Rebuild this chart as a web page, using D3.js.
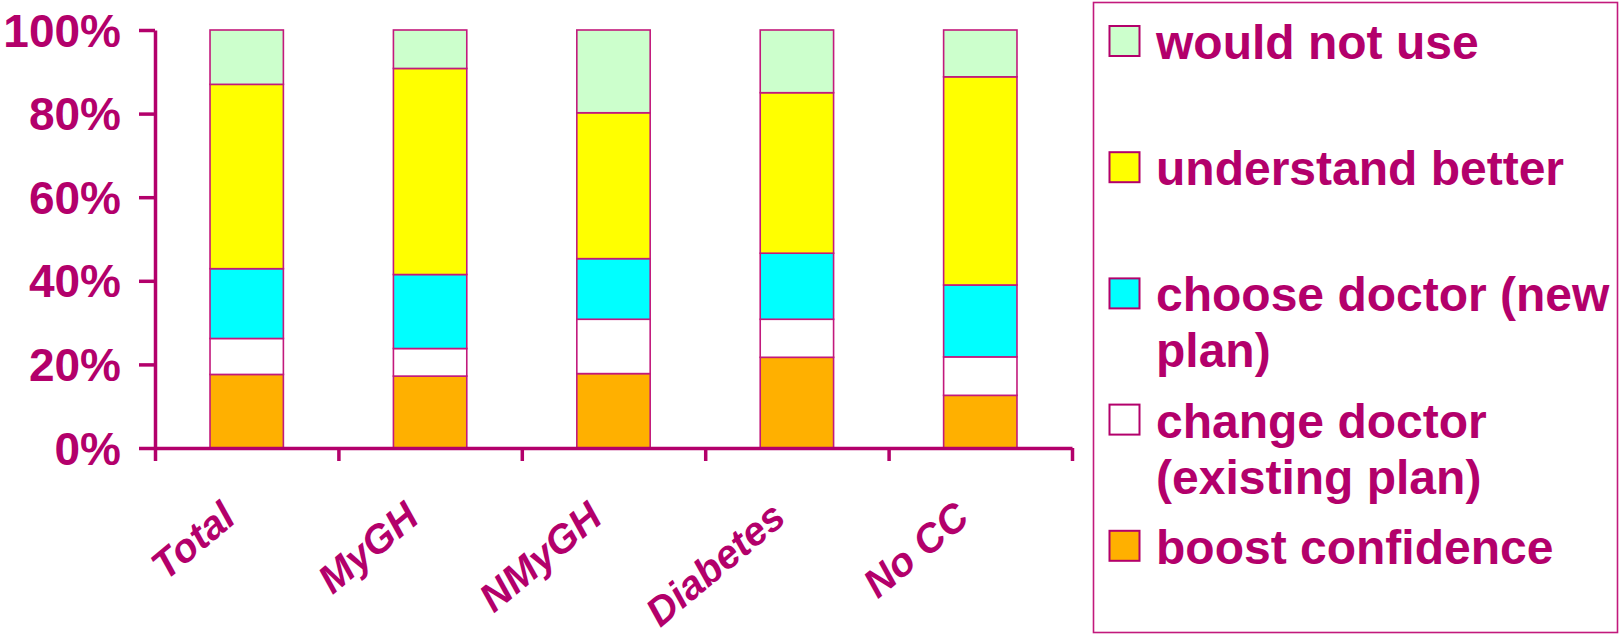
<!DOCTYPE html>
<html>
<head>
<meta charset="utf-8">
<script src="https://cdn.jsdelivr.net/npm/d3@7"></script>
<style>
  html, body { margin: 0; padding: 0; background: #ffffff; }
  svg { display: block; font-family: "Liberation Sans", Arial, sans-serif; }
</style>
</head>
<body>
<svg id="chart" width="1619" height="637"></svg>
<script>
// ---- data ----
const categories = ["Total", "MyGH", "NMyGH", "Diabetes", "No CC"];
const boostConfidence   = [17.6, 17.2, 17.8, 21.7, 12.6];
const changeDoctor      = [8.6, 6.6, 13.0, 9.1, 9.2];
const chooseDoctor      = [16.7, 17.7, 14.5, 15.8, 17.2];
const understandBetter  = [44.1, 49.3, 34.9, 38.4, 49.8];
const wouldNotUse       = [13.0, 9.2, 19.8, 15.0, 11.2];
const seriesNames  = ["boost confidence", "change doctor (existing plan)", "choose doctor (new plan)", "understand better", "would not use"];
const seriesColors = ["#ffb000", "#ffffff", "#00ffff", "#ffff00", "#ccffcc"];
const yTicks = [0, 20, 40, 60, 80, 100];
// legend lines (top to bottom)
const legendLines = [
  ["would not use"],
  ["understand better"],
  ["choose doctor (new", "plan)"],
  ["change doctor", "(existing plan)"],
  ["boost confidence"]
];
const legendColors = ["#ccffcc", "#ffff00", "#00ffff", "#ffffff", "#ffb000"];

const MAG = "#b3006b";
const svg = d3.select("#chart");

const table = categories.map((c, i) => ({
  cat: c,
  s0: boostConfidence[i], s1: changeDoctor[i], s2: chooseDoctor[i],
  s3: understandBetter[i], s4: wouldNotUse[i]
}));
const keys = ["s0", "s1", "s2", "s3", "s4"];
const stacked = d3.stack().keys(keys)(table);

const y = d3.scaleLinear().domain([0, 100]).range([448, 30]);
const x = d3.scaleBand().domain(categories).range([155, 1072]).paddingInner(0.6).paddingOuter(0.3);
const xb = d3.scaleLinear().domain([0, categories.length]).range([155, 1072]);

// bars
svg.append("g").selectAll("g").data(stacked).join("g")
  .attr("fill", (d, i) => seriesColors[i])
  .selectAll("rect").data(d => d).join("rect")
  .attr("x", d => x(d.data.cat))
  .attr("y", d => y(d[1]))
  .attr("width", x.bandwidth())
  .attr("height", d => y(d[0]) - y(d[1]))
  .attr("stroke", "#c2197c")
  .attr("stroke-width", 1.6);

// y axis
const yAxis = svg.append("g").attr("transform", "translate(155,0)")
  .call(d3.axisLeft(y).tickValues(yTicks).tickSize(16).tickSizeOuter(0).tickPadding(18).tickFormat(d => d + "%"));
yAxis.select(".domain").attr("stroke", MAG).attr("stroke-width", 3.5);
yAxis.selectAll(".tick line").attr("stroke", MAG).attr("stroke-width", 3.5);
yAxis.selectAll(".tick text").attr("fill", MAG).attr("font-size", 46).attr("font-weight", "bold")
  .attr("font-family", "'Liberation Sans', Arial, sans-serif").attr("dy", "0.35em");

// x axis (ticks at category boundaries)
const xAxis = svg.append("g").attr("transform", "translate(0,448)")
  .call(d3.axisBottom(xb).tickValues(d3.range(categories.length + 1)).tickSize(13).tickSizeOuter(0).tickFormat(""));
xAxis.select(".domain").attr("stroke", MAG).attr("stroke-width", 3.5);
xAxis.selectAll(".tick line").attr("stroke", MAG).attr("stroke-width", 3.5);

// category labels
svg.append("g").selectAll("text").data(categories).join("text")
  .attr("transform", d => `translate(${x(d) + x.bandwidth() / 2 - 9},521) rotate(-40)`)
  .attr("text-anchor", "end")
  .attr("fill", MAG)
  .attr("font-size", 40)
  .attr("font-weight", "bold")
  .attr("font-style", "italic")
  .text(d => d);

// legend
svg.append("rect").attr("x", 1093.5).attr("y", 2.5).attr("width", 524).attr("height", 630)
  .attr("fill", "none").attr("stroke", "#c2197c").attr("stroke-width", 1.6);
const lg = svg.append("g").selectAll("g").data(legendLines).join("g")
  .attr("transform", (d, i) => `translate(1109,${26 + i * 126.2})`);
lg.append("rect").attr("x", 0.5).attr("y", 0).attr("width", 30).attr("height", 30)
  .attr("fill", (d, i) => legendColors[i]).attr("stroke", MAG).attr("stroke-width", 2);
lg.append("text").attr("x", 47).attr("y", 33)
  .attr("fill", MAG).attr("font-size", 48).attr("font-weight", "bold")
  .selectAll("tspan").data(d => d).join("tspan")
  .attr("x", 47).attr("dy", (d, i) => i === 0 ? 0 : 56)
  .text(d => d);
</script>
</body>
</html>
